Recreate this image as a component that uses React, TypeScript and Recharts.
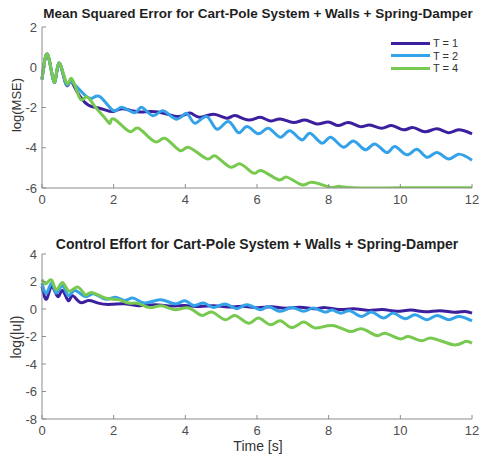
import { LineChart, Line, XAxis, YAxis } from 'recharts';

// [time (s), log value] pairs
const mseT1: [number, number][] = [
  [0, -0.6], [0.16, 0.62], [0.34, -0.75], [0.47, 0.2], [0.66, -0.8], [0.78, -0.72], [0.9, -0.95],
  [1.06, -1.45], [1.29, -1.88], [1.52, -2.0], [1.76, -2.12], [1.99, -2.2], [2.22, -2.06], [2.5, -2.16],
  [2.78, -2.22], [3.06, -2.2], [3.43, -2.3], [3.8, -2.45], [4.03, -2.33], [4.18, -2.3], [4.41, -2.49],
  [4.79, -2.34], [5.16, -2.53], [5.39, -2.4], [5.76, -2.62], [6.09, -2.49], [6.37, -2.67], [6.65, -2.57],
  [7.02, -2.75], [7.34, -2.62], [7.67, -2.82], [7.99, -2.72], [8.27, -2.9], [8.55, -2.75], [8.88, -2.95],
  [9.15, -2.87], [9.48, -3.03], [9.76, -2.9], [10.08, -3.11], [10.36, -3.0], [10.69, -3.2], [11.02, -3.06],
  [11.34, -3.25], [11.62, -3.11], [12, -3.31],
];

const mseT2: [number, number][] = [
  [0, -0.6], [0.16, 0.62], [0.34, -0.75], [0.47, 0.2], [0.66, -0.8], [0.78, -0.72], [1.1, -1.22],
  [1.38, -1.55], [1.62, -1.47], [1.99, -2.16], [2.22, -1.99], [2.59, -2.26], [2.78, -1.99], [3.1, -2.41],
  [3.38, -2.16], [3.75, -2.58], [4.04, -2.29], [4.27, -2.78], [4.6, -2.45], [4.88, -3.08], [5.2, -2.7],
  [5.48, -3.25], [5.72, -2.95], [6.04, -3.31], [6.32, -3.03], [6.65, -3.48], [6.92, -3.16], [7.25, -3.61],
  [7.48, -3.28], [7.81, -3.77], [8.06, -3.48], [8.41, -3.97], [8.69, -3.66], [9.02, -4.1], [9.29, -3.81],
  [9.62, -4.24], [9.85, -3.94], [10.18, -4.35], [10.46, -4.07], [10.74, -4.47], [11.02, -4.24],
  [11.34, -4.56], [11.62, -4.32], [12, -4.62],
];

const mseT4: [number, number][] = [
  [0, -0.6], [0.16, 0.62], [0.34, -0.75], [0.47, 0.2], [0.69, -0.8], [0.83, -0.56], [1.06, -1.55],
  [1.24, -1.47], [1.48, -1.96], [1.76, -2.53], [1.9, -2.78], [2.02, -2.58], [2.45, -3.2], [2.69, -3.03],
  [3.15, -3.7], [3.43, -3.53], [3.85, -4.14], [4.1, -3.98], [4.6, -4.55], [4.83, -4.4], [5.25, -4.96],
  [5.53, -4.8], [5.9, -5.26], [6.13, -5.14], [6.6, -5.59], [6.83, -5.46], [7.25, -5.84], [7.53, -5.72],
  [8.04, -5.96], [8.25, -5.92], [8.7, -5.99], [10, -5.99], [12, -5.99],
];

const effortT1: [number, number][] = [
  [0, 1.64], [0.13, 0.72], [0.27, 1.64], [0.44, 0.91], [0.57, 1.35], [0.73, 0.62], [0.85, 0.96],
  [1.06, 0.48], [1.29, 0.62], [1.57, 0.43], [1.94, 0.34], [2.3, 0.38], [2.69, 0.24], [3.15, 0.31],
  [3.61, 0.22], [3.98, 0.26], [4.4, 0.18], [4.8, 0.24], [5.2, 0.14], [5.6, 0.2], [6.0, 0.1], [6.4, 0.16],
  [6.8, 0.06], [7.2, 0.12], [7.6, 0.02], [7.9, 0.1], [8.3, -0.04], [8.7, 0.02], [9.1, -0.1], [9.5, -0.04],
  [9.9, -0.16], [10.3, -0.08], [10.7, -0.2], [11.1, -0.12], [11.5, -0.24], [11.8, -0.18], [12, -0.3],
];

const effortT2: [number, number][] = [
  [0, 1.89], [0.13, 1.16], [0.27, 1.89], [0.4, 1.16], [0.57, 1.69], [0.73, 0.96], [0.91, 1.35],
  [1.2, 0.91], [1.44, 1.11], [1.76, 0.72], [2.05, 0.85], [2.3, 0.62], [2.55, 0.79], [2.87, 0.43],
  [3.3, 0.67], [3.71, 0.38], [3.99, 0.6], [4.23, 0.26], [4.51, 0.43], [4.79, 0.11], [5.11, 0.36],
  [5.44, 0.02], [5.72, 0.31], [6.09, -0.05], [6.32, 0.19], [6.65, -0.17], [6.97, 0.11], [7.3, -0.17],
  [7.57, 0.07], [7.88, -0.22], [8.1, -0.08], [8.35, -0.3], [8.6, -0.13], [8.92, -0.54], [9.2, -0.22],
  [9.53, -0.66], [9.8, -0.3], [10.13, -0.71], [10.41, -0.42], [10.74, -0.78], [11.02, -0.47],
  [11.34, -0.78], [11.62, -0.54], [12, -0.86],
];

const effortT4: [number, number][] = [
  [0, 2.15], [0.12, 1.85], [0.27, 2.1], [0.4, 1.4], [0.57, 1.92], [0.75, 1.3], [0.99, 1.6], [1.2, 1.04],
  [1.38, 1.2], [1.76, 0.8], [2.13, 0.68], [2.41, 0.43], [2.69, 0.4], [3.01, 0.1], [3.34, 0.23],
  [3.71, -0.05], [4.1, 0.07], [4.46, -0.47], [4.74, -0.22], [5.11, -0.78], [5.39, -0.47], [5.76, -1.03],
  [6.04, -0.66], [6.37, -1.15], [6.65, -0.86], [6.97, -1.35], [7.3, -0.95], [7.62, -1.38], [8.1, -1.2],
  [8.6, -1.64], [8.92, -1.44], [9.34, -1.93], [9.57, -1.76], [9.99, -2.17], [10.22, -2.0], [10.6, -2.31],
  [10.88, -2.12], [11.48, -2.6], [11.8, -2.37], [12, -2.48],
];

const seriesNames = ['T = 1', 'T = 2', 'T = 4'];
const colors = ['#3b1f9e', '#34a2e8', '#78c94f'];
const timeTicks = [0, 2, 4, 6, 8, 10, 12];
const mseTicks = [-6, -4, -2, 0, 2];
const effortTicks = [-8, -6, -4, -2, 0, 2, 4];

const FONT = '"Liberation Sans", Arial, sans-serif';
const AXIS = '#8c8c8c';
const TEXT = '#4d4d4d';

const toRows = (pts: [number, number][]) => pts.map(([t, v]) => ({ t, v }));

const tickStyle = { fill: TEXT, fontSize: 13, fontFamily: FONT };

function Panel({ top, height, xHeight, series, yTicks }: {
  top: number;
  height: number;
  xHeight: number;
  series: [number, number][][];
  yTicks: number[];
}) {
  return (
    <div style={{ position: 'absolute', left: 0, top }}>
      <LineChart width={481} height={height} margin={{ top: 27, right: 9, bottom: 0, left: 0 }}>
        <XAxis
          type="number"
          dataKey="t"
          domain={[0, 12]}
          ticks={timeTicks}
          height={xHeight}
          tickSize={-4}
          tickMargin={11}
          axisLine={{ stroke: AXIS }}
          tickLine={{ stroke: AXIS }}
          tick={tickStyle}
        />
        <YAxis
          type="number"
          dataKey="v"
          domain={[yTicks[0], yTicks[yTicks.length - 1]]}
          ticks={yTicks}
          allowDataOverflow
          width={42}
          tickSize={-4}
          tickMargin={9}
          axisLine={{ stroke: AXIS }}
          tickLine={{ stroke: AXIS }}
          tick={tickStyle}
        />
        {series.map((pts, i) => (
          <Line
            key={seriesNames[i]}
            data={toRows(pts)}
            dataKey="v"
            name={seriesNames[i]}
            type="natural"
            stroke={colors[i]}
            strokeWidth={3}
            dot={false}
            isAnimationActive={false}
          />
        ))}
      </LineChart>
    </div>
  );
}

const centered = (x: number, y: number, rotate = false): React.CSSProperties => ({
  position: 'absolute',
  left: x,
  top: y,
  transform: `translate(-50%, -50%)${rotate ? ' rotate(-90deg)' : ''}`,
  whiteSpace: 'nowrap',
  lineHeight: 1,
  fontFamily: FONT,
});

export default function App() {
  return (
    <div style={{ position: 'absolute', left: 0, top: 0, width: 481, height: 454, background: '#fff', overflow: 'hidden' }}>
      <Panel top={0} height={215} xHeight={27} series={[mseT1, mseT2, mseT4]} yTicks={mseTicks} />
      <Panel top={227} height={227} xHeight={35} series={[effortT1, effortT2, effortT4]} yTicks={effortTicks} />

      <div style={{ ...centered(258, 13.5), fontSize: 13.5, fontWeight: 'bold', color: '#1f1f1f' }}>
        Mean Squared Error for Cart-Pole System + Walls + Spring-Damper
      </div>
      <div style={{ ...centered(257, 244), fontSize: 14, fontWeight: 'bold', color: '#1f1f1f' }}>
        Control Effort for Cart-Pole System + Walls + Spring-Damper
      </div>
      <div style={{ ...centered(16, 105, true), fontSize: 13, color: '#333' }}>log(MSE)</div>
      <div style={{ ...centered(16, 337, true), fontSize: 14, color: '#333' }}>log(|u|)</div>
      <div style={{ ...centered(258, 446), fontSize: 14, color: '#333' }}>Time [s]</div>

      <div style={{ position: 'absolute', left: 391, top: 37, fontFamily: FONT, fontSize: 11, color: '#333' }}>
        {seriesNames.map((name, i) => (
          <div key={name} style={{ display: 'flex', alignItems: 'center', height: 12.5 }}>
            <div style={{ width: 39, height: 3, background: colors[i], marginRight: 3 }} />
            <span>{name}</span>
          </div>
        ))}
      </div>
    </div>
  );
}
